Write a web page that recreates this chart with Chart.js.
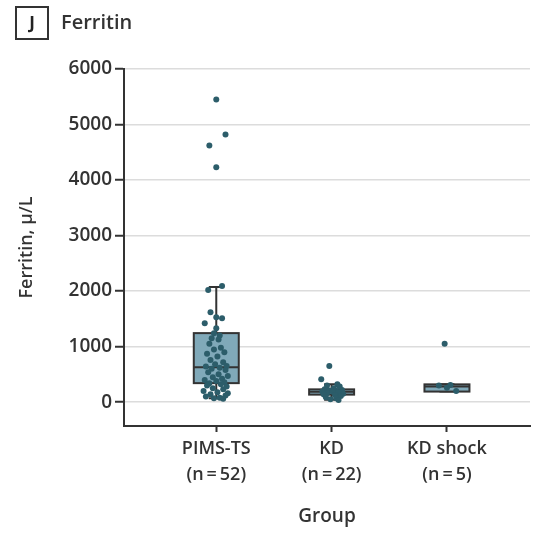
<!DOCTYPE html>
<html>
<head>
<meta charset="utf-8">
<script src="https://cdn.jsdelivr.net/npm/chart.js@4.4.1/dist/chart.umd.min.js"></script>
<style>
  html, body { margin: 0; padding: 0; background: #fff; }
  #wrap { width: 537px; height: 534px; }
</style>
</head>
<body>
<div id="wrap"><canvas id="c" width="537" height="534"></canvas></div>
<script>
// ---- data ----
const categories = ['PIMS-TS', 'KD', 'KD shock'];
const counts = [52, 22, 5];
const yTicks = [0, 1000, 2000, 3000, 4000, 5000, 6000];

// box statistics (μ/L)
const q1 = [342, 135, 190];
const median = [630, 185, 280];
const q3 = [1243, 230, 320];
const whiskerLow = [72, 45, 190];
const whiskerHigh = [2072, 324, 320];

// individual observations and their horizontal jitter (in category units)
const pimsValues = [5450, 4820, 4620, 4230, 2090, 2020, 1620, 1530, 1510, 1420, 1330, 1240, 1200, 1150, 1130,
  1050, 980, 950, 900, 870, 820, 760, 720, 680, 650, 640,
  620, 600, 580, 540, 500, 470, 450, 420, 400, 380, 360, 340,
  320, 300, 280, 250, 230, 200, 180, 160, 140, 120, 100, 80, 70, 60];
const pimsJitter = [0.00, 0.08, -0.06, 0.00, 0.05, -0.07, -0.05, 0.00, 0.05, -0.10, 0.00, -0.02, 0.03, -0.04, 0.02,
  -0.06, 0.04, -0.02, 0.07, -0.08, 0.01, -0.05, 0.06, -0.01, 0.09, -0.09,
  0.03, -0.04, 0.08, -0.07, 0.02, 0.10, -0.03, 0.05, -0.10, 0.00, 0.07, -0.06,
  0.04, -0.08, 0.09, -0.03, 0.06, -0.11, 0.01, 0.10, -0.05, 0.08, -0.09, 0.03, -0.02, 0.06];
const kdValues = [650, 410, 324, 300, 280, 250, 230, 220, 210, 200, 190, 185, 175, 160, 150, 140, 130, 110, 90, 70, 50, 40];
const kdJitter = [-0.02, -0.09, 0.05, -0.04, 0.07, 0.02, -0.06, 0.09, -0.02, 0.04, -0.08, 0.01, 0.06, -0.04, 0.10, -0.07, 0.03, 0.08, -0.05, 0.04, -0.01, 0.06];
const shockValues = [1050, 310, 300, 260, 200];
const shockJitter = [-0.02, 0.03, -0.07, 0.00, 0.08];

// ---- style ----
const TEXT = '#333333';
const POINT = '#2c5d6a';
const BOXFILL = '#80a9b9';
const FONT = "'Open Sans', 'Liberation Sans', sans-serif";
const W = 600;

function toPoints(vals, jit, pos) {
  return vals.map((v, i) => ({ x: pos + jit[i], y: v }));
}

const boxPlugin = {
  id: 'boxes',
  beforeDatasetsDraw(chart) {
    const { ctx } = chart;
    const xs = chart.scales.x, ys = chart.scales.y;
    const boxHalf = xs.getPixelForValue(1.195) - xs.getPixelForValue(1);
    const capHalf = xs.getPixelForValue(1.065) - xs.getPixelForValue(1);
    ctx.save();
    ctx.strokeStyle = TEXT;
    ctx.lineWidth = 2;
    categories.forEach((c, i) => {
      const xc = xs.getPixelForValue(i + 1);
      const yl = ys.getPixelForValue(whiskerLow[i]);
      const yh = ys.getPixelForValue(whiskerHigh[i]);
      const y1 = ys.getPixelForValue(q1[i]);
      const y3 = ys.getPixelForValue(q3[i]);
      const ym = ys.getPixelForValue(median[i]);
      ctx.beginPath();
      ctx.moveTo(xc, yl); ctx.lineTo(xc, yh);
      ctx.moveTo(xc - capHalf, yl); ctx.lineTo(xc + capHalf, yl);
      ctx.moveTo(xc - capHalf, yh); ctx.lineTo(xc + capHalf, yh);
      ctx.stroke();
      ctx.fillStyle = BOXFILL;
      ctx.fillRect(xc - boxHalf, y3, boxHalf * 2, y1 - y3);
      ctx.strokeRect(xc - boxHalf, y3, boxHalf * 2, y1 - y3);
      ctx.beginPath();
      ctx.moveTo(xc - boxHalf, ym); ctx.lineTo(xc + boxHalf, ym);
      ctx.stroke();
    });
    ctx.restore();
  }
};

const titlePlugin = {
  id: 'panelTitle',
  afterDraw(chart) {
    const { ctx } = chart;
    ctx.save();
    ctx.strokeStyle = TEXT;
    ctx.lineWidth = 2;
    ctx.strokeRect(16, 7, 32, 32);
    ctx.fillStyle = '#222';
    ctx.font = "bold 17px " + FONT;
    ctx.textAlign = 'center';
    ctx.textBaseline = 'middle';
    ctx.fillText('J', 32, 24);
    ctx.textAlign = 'left';
    ctx.font = W + " 20px " + FONT;
    ctx.fillStyle = TEXT;
    ctx.fillText('Ferritin', 61, 23);
    ctx.restore();
  }
};

const ds = (label, vals, jit, pos) => ({
  label, data: toPoints(vals, jit, pos),
  backgroundColor: POINT, borderColor: POINT, pointRadius: 3, pointBorderWidth: 0, pointHoverRadius: 3
});

new Chart(document.getElementById('c'), {
  type: 'scatter',
  data: {
    datasets: [
      ds(categories[0], pimsValues, pimsJitter, 1),
      ds(categories[1], kdValues, kdJitter, 2),
      ds(categories[2], shockValues, shockJitter, 3)
    ]
  },
  options: {
    responsive: false,
    animation: false,
    events: [],
    layout: { padding: { top: 69, right: 7, left: 0, bottom: 0 } },
    plugins: { legend: { display: false }, tooltip: { enabled: false } },
    scales: {
      x: {
        type: 'linear', min: 0.2, max: 3.72,
        afterBuildTicks(scale) { scale.ticks = categories.map((c, i) => ({ value: i + 1 })); },
        afterFit(scale) { scale.height = 108; },
        ticks: {
          autoSkip: false, maxRotation: 0,
          callback: (v) => [categories[v - 1], '(n\u2009=\u2009' + counts[v - 1] + ')'],
          font: { family: FONT, size: 18, weight: W, lineHeight: 1.45 }, color: TEXT, padding: 4
        },
        grid: { drawOnChartArea: false, drawTicks: true, tickLength: 6, tickColor: TEXT, tickWidth: 2 },
        border: { color: TEXT, width: 2 },
        title: { display: true, text: 'Group', color: TEXT, font: { family: FONT, size: 19, weight: W }, padding: { top: 0, bottom: 6 } }
      },
      y: {
        type: 'linear', min: -430, max: 6000,
        afterBuildTicks(scale) { scale.ticks = yTicks.map(v => ({ value: v })); },
        afterFit(scale) { scale.width = 124; },
        ticks: { font: { family: FONT, size: 19, weight: W }, color: TEXT, padding: 3, callback: (v) => String(v) },
        grid: { color: '#dcdcdc', lineWidth: 1.5, tickLength: 9, tickColor: TEXT, tickWidth: 2 },
        border: { color: TEXT, width: 2 },
        title: { display: true, text: 'Ferritin, μ/L', color: TEXT, font: { family: FONT, size: 18, weight: W }, padding: { top: 16, bottom: 0 } }
      }
    }
  },
  plugins: [boxPlugin, titlePlugin]
});
</script>
</body>
</html>
